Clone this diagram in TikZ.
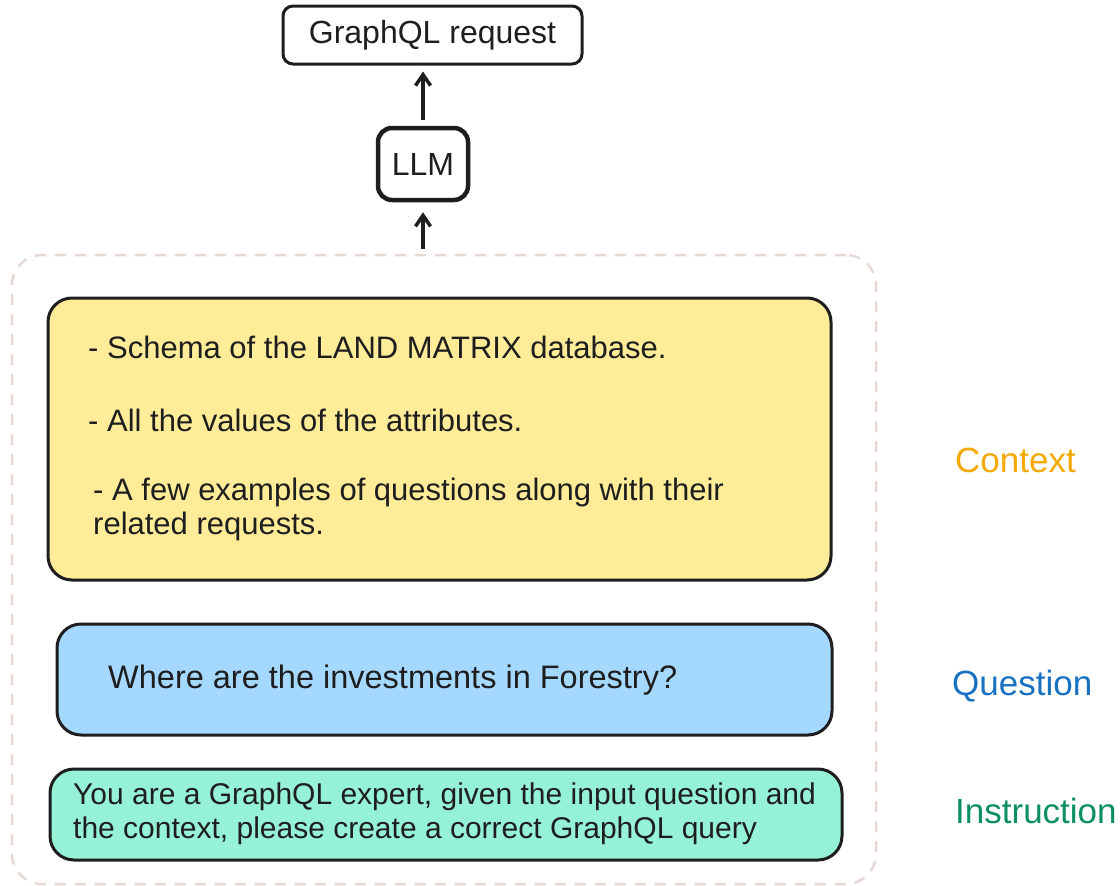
\documentclass[tikz,border=0pt]{standalone}
\usepackage{fontspec}
\setmainfont{Liberation Sans}
\usetikzlibrary{arrows.meta}

\definecolor{ink}{HTML}{1E1E1E}
\definecolor{ctxfill}{HTML}{FFEC99}
\definecolor{qstfill}{HTML}{A5D8FF}
\definecolor{insfill}{HTML}{96F2D7}
\definecolor{framecol}{HTML}{E6D8D3}
\definecolor{ctxcol}{HTML}{F5A800}
\definecolor{qstcol}{HTML}{1971C2}
\definecolor{inscol}{HTML}{0C8F64}

\begin{document}
\begin{tikzpicture}[x=1pt,y=-1pt,
	>={Straight Barb[length=11pt,width=15pt]},
	box/.style={draw=ink, line width=3pt, rounded corners=24pt, inner sep=0pt,
		font=\fontsize{32}{34}\selectfont, text=ink},
	txt/.style={anchor=west, inner sep=0pt, font=\fontsize{31}{34}\selectfont, text=ink},
	lbl/.style={anchor=west, inner sep=0pt, font=\fontsize{35}{40}\selectfont}]
	
	\useasboundingbox (0,0) rectangle (1120,886);
	
	\node[box, rounded corners=10pt, minimum width=299pt, minimum height=58pt] (req) at (432.5,35) {GraphQL request};
	
	\node[box, line width=4.5pt, rounded corners=14pt, minimum width=90pt, minimum height=72pt] (llm) at (423,164) {LLM};
	
	\node[draw=framecol, line width=2.5pt, dash pattern=on 11pt off 9pt, rounded corners=30pt,
		minimum width=864pt, minimum height=629pt] (frm) at (444,569.5) {};
	
	\node[box, fill=ctxfill, minimum width=783pt, minimum height=282pt] (ctx) at (439.5,439) {};
	\node[txt] (c1) at (88,347) {- Schema of the LAND MATRIX database.};
	\node[txt] (c2) at (88,420) {- All the values of the attributes.};
	\node[txt] (c3) at (93,492) {- A few examples of questions along with their};
	\node[txt] (c4) at (93,526) {related requests.};
	
	\node[box, fill=qstfill, minimum width=775pt, minimum height=111pt] (qst) at (444.5,679.5) {};
	\node[txt, font=\fontsize{32.5}{34}\selectfont] (q1) at (108,680) {Where are the investments in Forestry?};
	
	\node[box, fill=insfill, minimum width=792pt, minimum height=91pt] (ins) at (446,814.5) {};
	\node[txt, font=\fontsize{30}{34}\selectfont] (i1) at (73,797) {You are a GraphQL expert, given the input question and};
	\node[txt, font=\fontsize{30}{34}\selectfont] (i2) at (73,831) {the context, please create a correct GraphQL query};
	
	\node[lbl, text=ctxcol] (lctx) at (955,460) {Context};
	\node[lbl, text=qstcol] (lqst) at (952,686) {Question};
	\node[lbl, text=inscol] (lins) at (955,811) {Instruction};
	
	\draw[->, ink, line width=3.5pt, shorten <=6pt, shorten >=6pt] (llm.north) -- (llm.north |- req.south);
	\draw[->, ink, line width=3.5pt, shorten <=5pt, shorten >=10pt] (llm |- frm.north) -- (llm.south);
	
\end{tikzpicture}
\end{document}
